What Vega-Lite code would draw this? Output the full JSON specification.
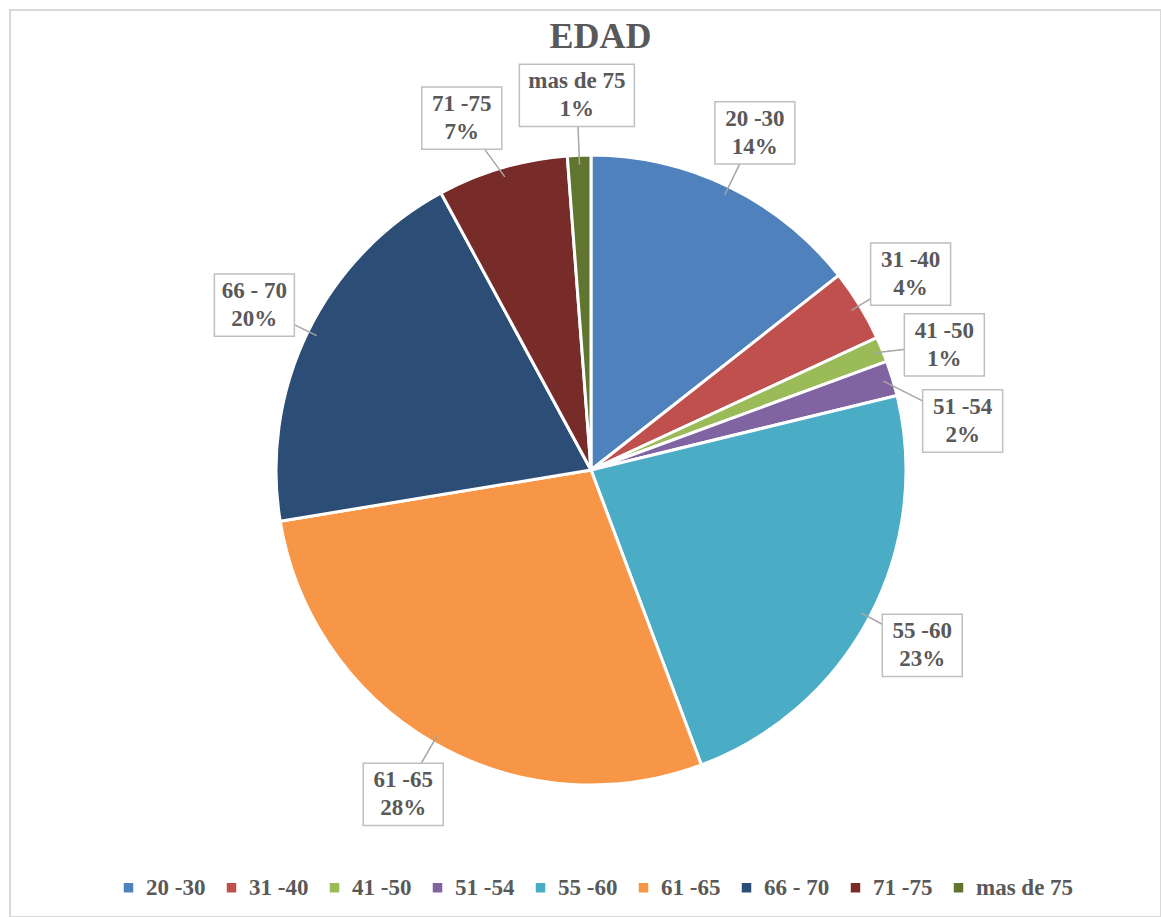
{
  "$schema": "https://vega.github.io/schema/vega-lite/v6.json",
  "width": 1151,
  "height": 907,
  "autosize": {"type": "none"},
  "padding": {"left": 10, "top": 10, "right": 0, "bottom": 0},
  "background": "white",
  "config": {"view": {"stroke": "#d9d9d9", "strokeWidth": 2}, "font": "'Liberation Serif', 'Times New Roman', serif"},
  "title": {"text": "EDAD", "fontSize": 36, "font": "'Liberation Serif', 'Times New Roman', serif", "fontWeight": "bold", "color": "#595959", "anchor": "middle", "offset": -46, "dx": 15},
  "data": {"values": [
    {"cat": "20 -30", "v": 14.4},
    {"cat": "31 -40", "v": 3.7},
    {"cat": "41 -50", "v": 1.3},
    {"cat": "51 -54", "v": 1.8},
    {"cat": "55 -60", "v": 23.1},
    {"cat": "61 -65", "v": 28.1},
    {"cat": "66 - 70", "v": 19.7},
    {"cat": "71 -75", "v": 6.7},
    {"cat": "mas de 75", "v": 1.2}
  ]},
  "transform": [
    {"joinaggregate": [{"op": "sum", "field": "v", "as": "total"}]},
    {"window": [{"op": "sum", "field": "v", "as": "cum"}], "sort": [{"field": "cat"}], "frame": [null, 0]},
    {"calculate": "(datum.cum - datum.v / 2) / datum.total * 360", "as": "mid"},
    {"window": [
      {"op": "lag", "field": "mid", "param": 1, "as": "lag1"},
      {"op": "lag", "field": "mid", "param": 2, "as": "lag2"},
      {"op": "lead", "field": "mid", "param": 1, "as": "lead1"}
    ], "sort": [{"field": "cat"}]},
    {"calculate": "datum.mid < 180 ? max(datum.mid, datum.lag1 == null ? -999 : datum.lag1 + 12, datum.lag2 == null ? -999 : datum.lag2 + 24) : (datum.lead1 == null ? datum.mid : min(datum.mid, datum.lead1 - 18))", "as": "lt"},
    {"calculate": "1.19 * sin(datum.lt * PI / 180)", "as": "lx"},
    {"calculate": "1.19 * cos(datum.lt * PI / 180)", "as": "ly"},
    {"calculate": "0.97 * sin(datum.mid * PI / 180)", "as": "sx"},
    {"calculate": "0.97 * cos(datum.mid * PI / 180)", "as": "sy"},
    {"calculate": "datum.cat + '\\n' + format(datum.v / 100, '.0%')", "as": "lab"}
  ],
  "layer": [
    {
      "mark": {"type": "arc", "outerRadius": 315, "stroke": "white", "strokeWidth": 3},
      "encoding": {
        "theta": {"field": "v", "type": "quantitative", "stack": true},
        "order": {"field": "cat", "sort": "ascending"},
        "x": {"datum": 0, "type": "quantitative", "scale": {"domain": [-1.8444, 1.8095], "nice": false, "zero": false}, "axis": null},
        "y": {"datum": 0, "type": "quantitative", "scale": {"domain": [-1.4191, 1.4603], "nice": false, "zero": false}, "axis": null},
        "color": {
          "field": "cat", "type": "nominal",
          "scale": {
            "domain": ["20 -30", "31 -40", "41 -50", "51 -54", "55 -60", "61 -65", "66 - 70", "71 -75", "mas de 75"],
            "range": ["#4F81BD", "#C0504D", "#9BBB59", "#8064A2", "#4BACC6", "#F79646", "#2C4D75", "#772C2A", "#5F7530"]
          },
          "legend": {
            "orient": "none", "legendX": 107, "legendY": 866, "direction": "horizontal", "title": null,
            "symbolType": "square", "symbolSize": 90, "symbolStrokeWidth": 0,
            "labelFont": "'Liberation Serif', 'Times New Roman', serif", "labelFontSize": 23, "labelFontWeight": "bold", "labelColor": "#595959",
            "columnPadding": 14, "labelOffset": 6, "labelLimit": 0, "padding": 0
          }
        }
      }
    },
    {
      "mark": {"type": "rule", "color": "#a6a6a6", "strokeWidth": 1.5},
      "encoding": {
        "x": {"field": "sx", "type": "quantitative", "scale": {"domain": [-1.8444, 1.8095], "nice": false, "zero": false}, "axis": null},
        "y": {"field": "sy", "type": "quantitative", "scale": {"domain": [-1.4191, 1.4603], "nice": false, "zero": false}, "axis": null},
        "x2": {"field": "lx"},
        "y2": {"field": "ly"}
      }
    },
    {
      "transform": [{"filter": "length(datum.cat) <= 7"}],
      "mark": {"type": "point", "shape": "M-1,-0.78L1,-0.78L1,0.78L-1,0.78Z", "size": 6400, "filled": true, "fill": "white", "stroke": "#bfbfbf", "strokeWidth": 1.5, "opacity": 1, "fillOpacity": 1, "strokeOpacity": 1},
      "encoding": {
        "x": {"field": "lx", "type": "quantitative", "scale": {"domain": [-1.8444, 1.8095], "nice": false, "zero": false}, "axis": null},
        "y": {"field": "ly", "type": "quantitative", "scale": {"domain": [-1.4191, 1.4603], "nice": false, "zero": false}, "axis": null}
      }
    },
    {
      "transform": [{"filter": "length(datum.cat) > 7"}],
      "mark": {"type": "point", "shape": "M-1,-0.54L1,-0.54L1,0.54L-1,0.54Z", "size": 13225, "filled": true, "fill": "white", "stroke": "#bfbfbf", "strokeWidth": 1.5, "opacity": 1, "fillOpacity": 1, "strokeOpacity": 1},
      "encoding": {
        "x": {"field": "lx", "type": "quantitative", "scale": {"domain": [-1.8444, 1.8095], "nice": false, "zero": false}, "axis": null},
        "y": {"field": "ly", "type": "quantitative", "scale": {"domain": [-1.4191, 1.4603], "nice": false, "zero": false}, "axis": null}
      }
    },
    {
      "mark": {"type": "text", "font": "'Liberation Serif', 'Times New Roman', serif", "fontSize": 23, "fontWeight": "bold", "color": "#595959", "lineBreak": "\n", "lineHeight": 28, "align": "center", "baseline": "middle", "dy": -14},
      "encoding": {
        "x": {"field": "lx", "type": "quantitative", "scale": {"domain": [-1.8444, 1.8095], "nice": false, "zero": false}, "axis": null},
        "y": {"field": "ly", "type": "quantitative", "scale": {"domain": [-1.4191, 1.4603], "nice": false, "zero": false}, "axis": null},
        "text": {"field": "lab"}
      }
    }
  ]
}
